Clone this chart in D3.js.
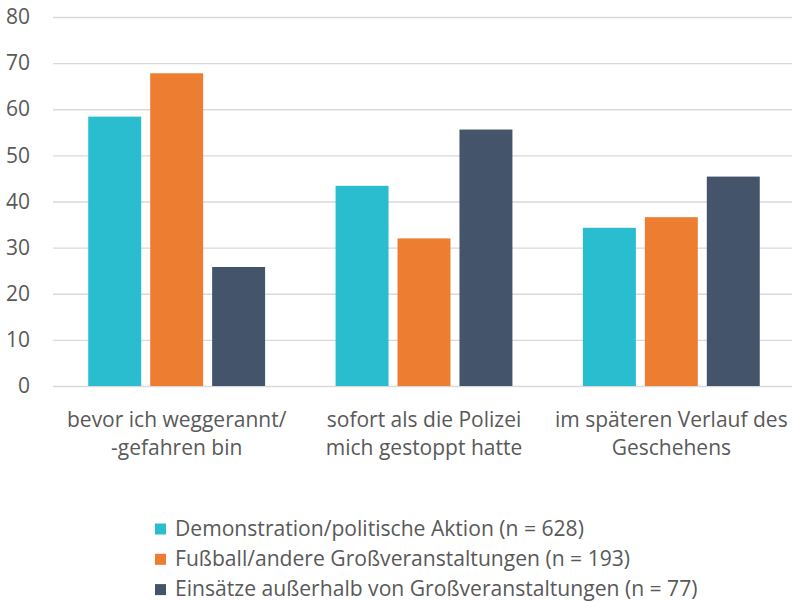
<!DOCTYPE html>
<html>
<head>
<meta charset="utf-8">
<script src="https://cdn.jsdelivr.net/npm/d3@7"></script>
<style>
  body { margin: 0; background: #fff; }
  svg text { fill: #595959; }
</style>
</head>
<body>
<svg id="chart" width="792" height="602"></svg>
<script>
const categories = [
  ['bevor ich weggerannt/', '-gefahren bin'],
  ['sofort als die Polizei', 'mich gestoppt hatte'],
  ['im späteren Verlauf des', 'Geschehens']
]
const seriesNames = [
  'Demonstration/politische Aktion (n = 628)',
  'Fußball/andere Großveranstaltungen (n = 193)',
  'Einsätze außerhalb von Großveranstaltungen (n = 77)'
]
const demo = [58.4, 43.4, 34.3]
const fussball = [67.8, 32.0, 36.6]
const einsaetze = [25.8, 55.6, 45.4]
const yTicks = [0, 10, 20, 30, 40, 50, 60, 70, 80]

const colors = ['#2abccf', '#ed7d31', '#44546a']
const series = [demo, fussball, einsaetze]

const margin = { top: 17, right: 0, bottom: 216, left: 53 }
const width = 795 - margin.left
const height = 386 - margin.top

const svg = d3.select('#chart')
const g = svg.append('g')
  .attr('transform', 'translate(' + margin.left + ',' + margin.top + ')')

const x0 = d3.scaleBand()
  .domain(d3.range(categories.length))
  .range([0, width])
  .paddingInner(0.285)
  .paddingOuter(0.1425)
const x1 = d3.scaleBand()
  .domain(d3.range(series.length))
  .range([0, x0.bandwidth()])
  .paddingInner(0.145)
const y = d3.scaleLinear()
  .domain([0, 80])
  .range([height, 0])

// grid + y labels
const yAxis = g.append('g')
  .call(d3.axisLeft(y).tickValues(yTicks).tickSize(-(792 - margin.left)).tickPadding(23))
yAxis.select('.domain').remove()
yAxis.selectAll('line').attr('stroke', '#d9d9d9').attr('stroke-width', 1.3)
yAxis.selectAll('text')
  .attr('font-family', 'Open Sans, sans-serif')
  .attr('font-size', 21)
  .style('fill', '#595959')

// bars
const groups = g.selectAll('.grp')
  .data(categories)
  .enter().append('g')
  .attr('transform', (d, i) => 'translate(' + x0(i) + ',0)')

groups.selectAll('rect')
  .data((d, i) => series.map((s, j) => ({ j: j, v: s[i] })))
  .enter().append('rect')
  .attr('x', d => x1(d.j))
  .attr('width', x1.bandwidth())
  .attr('y', d => y(d.v))
  .attr('height', d => height - y(d.v))
  .attr('fill', d => colors[d.j])

// x labels
const xAxis = g.append('g')
  .attr('transform', 'translate(0,' + height + ')')
  .call(d3.axisBottom(x0).tickSize(0).tickFormat(''))
xAxis.select('.domain').remove()
xAxis.selectAll('.tick').each(function (d) {
  const t = d3.select(this).append('text')
    .attr('text-anchor', 'middle')
    .attr('font-family', 'Open Sans, sans-serif')
    .attr('font-size', 21)
    .style('fill', '#595959')
  categories[d].forEach((line, k) => {
    t.append('tspan').attr('x', 0).attr('y', 41 + k * 27.5).text(line)
  })
})

// legend
const legend = svg.append('g')
  .attr('transform', 'translate(155,523.5)')
const items = legend.selectAll('g')
  .data(seriesNames)
  .enter().append('g')
  .attr('transform', (d, i) => 'translate(0,' + i * 30.3 + ')')
items.append('rect')
  .attr('width', 11)
  .attr('height', 11)
  .attr('fill', (d, i) => colors[i])
items.append('text')
  .attr('x', 20)
  .attr('y', 12)
  .attr('font-family', 'Open Sans, sans-serif')
  .attr('font-size', 21.1)
  .style('fill', '#595959')
  .text(d => d)
</script>
</body>
</html>
